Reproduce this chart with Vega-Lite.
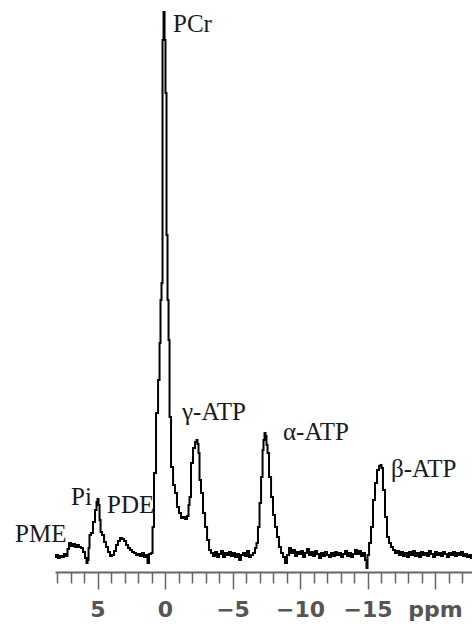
{
  "$schema": "https://vega.github.io/schema/vega-lite/v6.json",
  "width": 417,
  "height": 572,
  "autosize": {"type": "none"},
  "padding": {"left": 55, "top": 0, "right": 0, "bottom": 53},
  "background": "white",
  "config": {"view": {"stroke": null}},
  "encoding": {
    "x": {
      "field": "ppm", "type": "quantitative",
      "scale": {"domain": [-22.74, 8.15], "reverse": true, "nice": false, "zero": false},
      "axis": {
        "title": null,
        "grid": false,
        "values": [-22,-21,-20,-19,-18,-17,-16,-15,-14,-13,-12,-11,-10,-9,-8,-7,-6,-5,-4,-3,-2,-1,0,1,2,3,4,5,6,7,8],
        "domainColor": "#666",
        "domainWidth": 2,
        "tickColor": "#666",
        "tickWidth": 1.5,
        "tickSize": {"condition": {"test": "datum.value % 5 === 0", "value": 17}, "value": 11},
        "labelExpr": "datum.value % 5 === 0 ? (datum.value === -20 ? 'ppm' : datum.label) : ''",
        "labelFont": "DejaVu Sans",
        "labelFontWeight": "bold",
        "labelFontSize": 22,
        "labelColor": "#555",
        "labelPadding": 10,
        "labelOverlap": false,
        "labelFlush": false
      }
    },
    "y": {
      "field": "v", "type": "quantitative",
      "scale": {"domain": [0, 572], "nice": false, "zero": false},
      "axis": null
    }
  },
  "layer": [
    {
      "data": {"values": [
        {"ppm":8.15,"v":15},{"ppm":8.00,"v":17},{"ppm":7.85,"v":14},{"ppm":7.70,"v":16},{"ppm":7.56,"v":15},{"ppm":7.41,"v":18},{"ppm":7.26,"v":16},{"ppm":7.19,"v":23},{"ppm":7.04,"v":29},{"ppm":6.89,"v":26},{"ppm":6.74,"v":28},{"ppm":6.59,"v":25},{"ppm":6.44,"v":27},{"ppm":6.30,"v":25},{"ppm":6.15,"v":24},{"ppm":6.00,"v":20},{"ppm":5.85,"v":14},{"ppm":5.78,"v":9},{"ppm":5.70,"v":12},{"ppm":5.63,"v":24},{"ppm":5.56,"v":37},{"ppm":5.41,"v":39},{"ppm":5.26,"v":50},{"ppm":5.11,"v":62},{"ppm":5.04,"v":70},{"ppm":4.96,"v":73},{"ppm":4.89,"v":67},{"ppm":4.81,"v":52},{"ppm":4.74,"v":40},{"ppm":4.59,"v":37},{"ppm":4.44,"v":30},{"ppm":4.30,"v":25},{"ppm":4.15,"v":20},{"ppm":4.00,"v":16},{"ppm":3.85,"v":17},{"ppm":3.70,"v":21},{"ppm":3.56,"v":27},{"ppm":3.41,"v":31},{"ppm":3.26,"v":34},{"ppm":3.11,"v":33},{"ppm":2.96,"v":31},{"ppm":2.81,"v":27},{"ppm":2.67,"v":24},{"ppm":2.52,"v":22},{"ppm":2.37,"v":20},{"ppm":2.22,"v":19},{"ppm":2.07,"v":17},{"ppm":1.93,"v":18},{"ppm":1.78,"v":16},{"ppm":1.63,"v":19},{"ppm":1.48,"v":15},{"ppm":1.33,"v":17},{"ppm":1.26,"v":9},{"ppm":1.11,"v":18},{"ppm":0.96,"v":19},{"ppm":0.89,"v":45},{"ppm":0.74,"v":99},{"ppm":0.59,"v":159},{"ppm":0.44,"v":192},{"ppm":0.37,"v":229},{"ppm":0.30,"v":272},{"ppm":0.22,"v":289},{"ppm":0.15,"v":532},{"ppm":0.07,"v":560},{"ppm":0.00,"v":532},{"ppm":-0.07,"v":479},{"ppm":-0.15,"v":337},{"ppm":-0.22,"v":272},{"ppm":-0.30,"v":232},{"ppm":-0.37,"v":155},{"ppm":-0.52,"v":105},{"ppm":-0.67,"v":87},{"ppm":-0.81,"v":79},{"ppm":-0.96,"v":65},{"ppm":-1.11,"v":59},{"ppm":-1.26,"v":54},{"ppm":-1.41,"v":55},{"ppm":-1.56,"v":53},{"ppm":-1.70,"v":56},{"ppm":-1.78,"v":67},{"ppm":-1.85,"v":75},{"ppm":-2.00,"v":109},{"ppm":-2.15,"v":124},{"ppm":-2.30,"v":130},{"ppm":-2.37,"v":132},{"ppm":-2.44,"v":128},{"ppm":-2.52,"v":119},{"ppm":-2.59,"v":92},{"ppm":-2.74,"v":79},{"ppm":-2.89,"v":59},{"ppm":-3.04,"v":45},{"ppm":-3.19,"v":32},{"ppm":-3.33,"v":22},{"ppm":-3.48,"v":19},{"ppm":-3.63,"v":16},{"ppm":-3.78,"v":20},{"ppm":-3.93,"v":15},{"ppm":-4.07,"v":18},{"ppm":-4.22,"v":21},{"ppm":-4.37,"v":15},{"ppm":-4.52,"v":19},{"ppm":-4.67,"v":17},{"ppm":-4.81,"v":20},{"ppm":-4.96,"v":16},{"ppm":-5.11,"v":19},{"ppm":-5.26,"v":15},{"ppm":-5.41,"v":18},{"ppm":-5.56,"v":12},{"ppm":-5.70,"v":17},{"ppm":-5.85,"v":19},{"ppm":-6.00,"v":16},{"ppm":-6.15,"v":21},{"ppm":-6.30,"v":15},{"ppm":-6.44,"v":17},{"ppm":-6.59,"v":19},{"ppm":-6.74,"v":24},{"ppm":-6.81,"v":29},{"ppm":-6.96,"v":45},{"ppm":-7.04,"v":69},{"ppm":-7.19,"v":95},{"ppm":-7.26,"v":122},{"ppm":-7.33,"v":132},{"ppm":-7.41,"v":139},{"ppm":-7.48,"v":136},{"ppm":-7.56,"v":127},{"ppm":-7.63,"v":119},{"ppm":-7.78,"v":95},{"ppm":-7.93,"v":75},{"ppm":-8.07,"v":57},{"ppm":-8.22,"v":45},{"ppm":-8.37,"v":35},{"ppm":-8.52,"v":25},{"ppm":-8.67,"v":19},{"ppm":-8.81,"v":15},{"ppm":-8.96,"v":9},{"ppm":-9.11,"v":17},{"ppm":-9.26,"v":24},{"ppm":-9.41,"v":19},{"ppm":-9.56,"v":22},{"ppm":-9.70,"v":16},{"ppm":-9.85,"v":20},{"ppm":-10.00,"v":18},{"ppm":-10.15,"v":21},{"ppm":-10.30,"v":15},{"ppm":-10.44,"v":19},{"ppm":-10.59,"v":23},{"ppm":-10.74,"v":17},{"ppm":-10.89,"v":20},{"ppm":-11.04,"v":16},{"ppm":-11.19,"v":21},{"ppm":-11.33,"v":18},{"ppm":-11.48,"v":14},{"ppm":-11.63,"v":19},{"ppm":-11.78,"v":16},{"ppm":-11.93,"v":20},{"ppm":-12.07,"v":17},{"ppm":-12.22,"v":15},{"ppm":-12.37,"v":19},{"ppm":-12.52,"v":16},{"ppm":-12.67,"v":20},{"ppm":-12.81,"v":17},{"ppm":-12.96,"v":19},{"ppm":-13.11,"v":15},{"ppm":-13.26,"v":18},{"ppm":-13.41,"v":21},{"ppm":-13.56,"v":16},{"ppm":-13.70,"v":19},{"ppm":-13.85,"v":15},{"ppm":-14.00,"v":18},{"ppm":-14.15,"v":22},{"ppm":-14.30,"v":18},{"ppm":-14.44,"v":21},{"ppm":-14.59,"v":16},{"ppm":-14.74,"v":19},{"ppm":-14.89,"v":12},{"ppm":-14.96,"v":4},{"ppm":-15.04,"v":17},{"ppm":-15.19,"v":29},{"ppm":-15.33,"v":45},{"ppm":-15.48,"v":72},{"ppm":-15.63,"v":89},{"ppm":-15.78,"v":102},{"ppm":-15.93,"v":106},{"ppm":-16.00,"v":107},{"ppm":-16.07,"v":104},{"ppm":-16.22,"v":82},{"ppm":-16.37,"v":55},{"ppm":-16.52,"v":35},{"ppm":-16.67,"v":29},{"ppm":-16.81,"v":25},{"ppm":-16.96,"v":22},{"ppm":-17.11,"v":19},{"ppm":-17.26,"v":21},{"ppm":-17.41,"v":17},{"ppm":-17.56,"v":20},{"ppm":-17.70,"v":16},{"ppm":-17.85,"v":19},{"ppm":-18.00,"v":15},{"ppm":-18.15,"v":20},{"ppm":-18.30,"v":17},{"ppm":-18.44,"v":21},{"ppm":-18.59,"v":16},{"ppm":-18.74,"v":19},{"ppm":-18.89,"v":15},{"ppm":-19.04,"v":20},{"ppm":-19.19,"v":17},{"ppm":-19.33,"v":19},{"ppm":-19.48,"v":16},{"ppm":-19.63,"v":21},{"ppm":-19.78,"v":18},{"ppm":-19.93,"v":15},{"ppm":-20.07,"v":20},{"ppm":-20.22,"v":17},{"ppm":-20.37,"v":19},{"ppm":-20.52,"v":16},{"ppm":-20.67,"v":20},{"ppm":-20.81,"v":18},{"ppm":-20.96,"v":15},{"ppm":-21.11,"v":19},{"ppm":-21.26,"v":17},{"ppm":-21.41,"v":20},{"ppm":-21.56,"v":16},{"ppm":-21.70,"v":19},{"ppm":-21.85,"v":17},{"ppm":-22.00,"v":20},{"ppm":-22.15,"v":16},{"ppm":-22.30,"v":18},{"ppm":-22.44,"v":15},{"ppm":-22.59,"v":17},{"ppm":-22.74,"v":14}
      ]},
      "mark": {"type": "line", "interpolate": "step", "color": "black", "strokeWidth": 2}
    },
    {
      "data": {"values": [
        {"label": "PCr", "ppm": -0.59, "v": 540},
        {"label": "γ-ATP", "ppm": -1.26, "v": 152},
        {"label": "α-ATP", "ppm": -8.74, "v": 132},
        {"label": "β-ATP", "ppm": -16.74, "v": 95},
        {"label": "Pi", "ppm": 6.96, "v": 67},
        {"label": "PDE", "ppm": 4.30, "v": 59},
        {"label": "PME", "ppm": 11.11, "v": 30}
      ]},
      "mark": {"type": "text", "align": "left", "baseline": "alphabetic", "font": "Liberation Serif", "fontSize": 25, "color": "#1a1a1a"},
      "encoding": {
        "text": {"field": "label"}
      }
    }
  ]
}
